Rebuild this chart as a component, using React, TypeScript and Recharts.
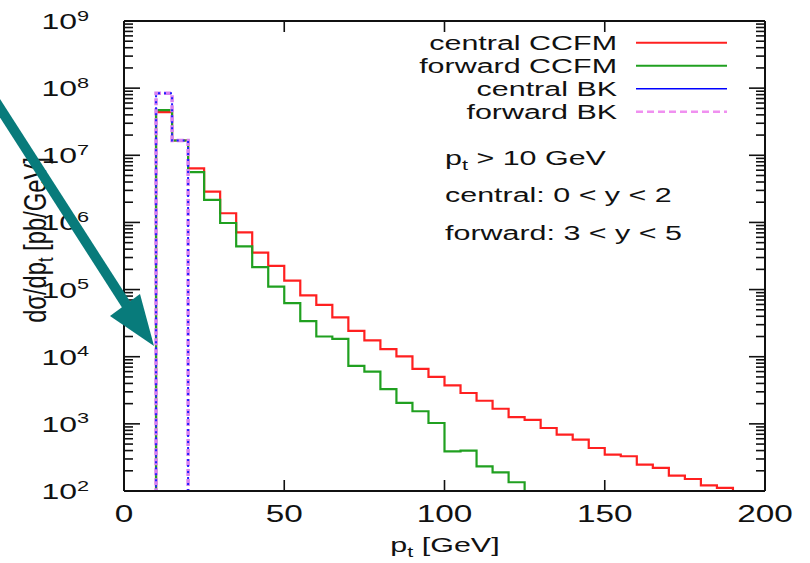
import React from 'react';
import { LineChart, Line, XAxis, YAxis } from 'recharts';

const FONT = '"Liberation Sans", Arial, Helvetica, sans-serif';
const SX = 1.45;

// bin edges (GeV)
const centralCcfmEdges = [10, 15, 20, 25, 30, 35, 40, 45, 50, 55, 60, 65, 70, 75, 80, 85, 90, 95, 100, 105, 110, 115, 120, 125, 130, 135, 140, 145, 150, 155, 160, 165, 170, 175, 180, 185, 190];
const forwardCcfmEdges = [10, 15, 20, 25, 30, 35, 40, 45, 50, 55, 60, 65, 70, 75, 80, 85, 90, 95, 100, 105, 110, 115, 120, 125];
const bkEdges = [10, 15, 20];

// dsigma/dpt values per bin (pb/GeV)
const centralCcfm = [4.4e7, 1.66e7, 6.4e6, 2.88e6, 1.37e6, 7.1e5, 3.56e5, 2.26e5, 1.36e5, 8.2e4, 5.9e4, 3.85e4, 2.42e4, 1.75e4, 1.3e4, 1.01e4, 6.6e3, 5.0e3, 3.74e3, 2.88e3, 2.21e3, 1.68e3, 1.26e3, 1.15e3, 867, 690, 582, 437, 348, 329, 247, 221, 169, 151, 121, 111];
const forwardCcfm = [4.7e7, 1.66e7, 5.6e6, 2.17e6, 9.8e5, 4.4e5, 2.16e5, 1.11e5, 6.3e4, 3.4e4, 2.0e4, 1.84e4, 7.3e3, 6.0e3, 3.3e3, 2.05e3, 1.54e3, 1.03e3, 390, 400, 233, 190, 135];
const centralBk = [8.4e7, 1.66e7];
const forwardBk = [8.4e7, 1.66e7];
const BELOW_AXIS = 1;

const xTicks = [0, 50, 100, 150, 200];
const yMajorTicks = [1e2, 1e3, 1e4, 1e5, 1e6, 1e7, 1e8, 1e9];
const yMinorTicks: number[] = [];
yMajorTicks.slice(0, -1).forEach((d) => {
  [2, 3, 4, 5, 6, 7, 8, 9].forEach((m) => yMinorTicks.push(d * m));
});
const yTicks = [...yMajorTicks, ...yMinorTicks].sort((a, b) => a - b);

const legendItems = [
  { label: 'central CCFM', color: '#ff2020', dash: undefined as string | undefined, w: 2 },
  { label: 'forward CCFM', color: '#20a020', dash: undefined, w: 2 },
  { label: 'central BK', color: '#0000ff', dash: undefined, w: 1.5 },
  { label: 'forward BK', color: '#f090f0', dash: '7 4', w: 2.5 },
];

function toSteps(edges: number[], values: number[]) {
  const pts = [{ x: edges[0], y: BELOW_AXIS }];
  values.forEach((v, i) => pts.push({ x: edges[i], y: v }));
  pts.push({ x: edges[edges.length - 1], y: BELOW_AXIS });
  return pts;
}

const redData = toSteps(centralCcfmEdges, centralCcfm);
const greenData = toSteps(forwardCcfmEdges, forwardCcfm);
const blueData = toSteps(bkEdges, centralBk);
const pinkData = toSteps(bkEdges, forwardBk);

const isMajor = (v: number) => Math.abs(Math.log10(v) - Math.round(Math.log10(v))) < 1e-6;

const LeftTick = (props: any) => {
  const { x, y, payload } = props;
  const v = payload.value;
  const major = isMajor(v);
  const e = Math.round(Math.log10(v));
  return (
    <g>
      <line x1={x} x2={x + (major ? 16 : 9)} y1={y} y2={y} stroke="#111" strokeWidth={1.6} />
      {major && (
        <text
          transform={`translate(${x - 35},${y + 8}) scale(${SX},1)`}
          textAnchor="end"
          fontSize={22}
          fontFamily={FONT}
          fill="#111"
        >
          10
          <tspan fontSize={15} dy={-8.5}>{e}</tspan>
        </text>
      )}
    </g>
  );
};

const RightTick = (props: any) => {
  const { x, y, payload } = props;
  const major = isMajor(payload.value);
  return <line x1={x} x2={x - (major ? 16 : 9)} y1={y} y2={y} stroke="#111" strokeWidth={1.6} />;
};

const BottomTick = (props: any) => {
  const { x, y, payload } = props;
  const v = payload.value;
  return (
    <g>
      {v !== 0 && v !== 200 && <line x1={x} x2={x} y1={y} y2={y - 11} stroke="#111" strokeWidth={1.6} />}
      <text
        transform={`translate(${x},${y + 31}) scale(${SX},1)`}
        textAnchor="middle"
        fontSize={23}
        fontFamily={FONT}
        fill="#111"
      >
        {v}
      </text>
    </g>
  );
};

const TopTick = (props: any) => {
  const { x, y, payload } = props;
  const v = payload.value;
  if (v === 0 || v === 200) return <g />;
  return <line x1={x} x2={x} y1={y} y2={y + 11} stroke="#111" strokeWidth={1.6} />;
};

export default function App() {
  return (
    <div style={{ position: 'absolute', left: 0, top: 0, width: 810, height: 563, background: '#fff' }}>
      <LineChart
        width={810}
        height={563}
        margin={{ top: 20, right: 44, bottom: 0, left: 0 }}
      >
        <XAxis
          xAxisId="b"
          dataKey="x"
          type="number"
          domain={[0, 200]}
          ticks={xTicks}
          interval={0}
          height={72}
          tickSize={0}
          tickMargin={0}
          tickLine={false}
          axisLine={{ stroke: '#111', strokeWidth: 2 }}
          tick={<BottomTick />}
          allowDataOverflow
        />
        <XAxis
          xAxisId="t"
          orientation="top"
          dataKey="x"
          type="number"
          domain={[0, 200]}
          ticks={xTicks}
          interval={0}
          height={1}
          tickSize={0}
          tickMargin={0}
          tickLine={false}
          axisLine={{ stroke: '#111', strokeWidth: 2 }}
          tick={<TopTick />}
          allowDataOverflow
        />
        <YAxis
          yAxisId="l"
          scale="log"
          domain={[100, 1e9]}
          ticks={yTicks}
          interval={0}
          width={124}
          tickSize={0}
          tickMargin={0}
          tickLine={false}
          axisLine={{ stroke: '#111', strokeWidth: 2 }}
          tick={<LeftTick />}
          allowDataOverflow
        />
        <YAxis
          yAxisId="r"
          orientation="right"
          scale="log"
          domain={[100, 1e9]}
          ticks={yTicks}
          interval={0}
          width={1}
          tickSize={0}
          tickMargin={0}
          tickLine={false}
          axisLine={{ stroke: '#111', strokeWidth: 2 }}
          tick={<RightTick />}
          allowDataOverflow
        />
        <Line data={redData} xAxisId="b" yAxisId="l" dataKey="y" type="stepAfter" stroke="#ff2020" strokeWidth={2.2} dot={false} isAnimationActive={false} />
        <Line data={greenData} xAxisId="b" yAxisId="l" dataKey="y" type="stepAfter" stroke="#20a020" strokeWidth={2.2} dot={false} isAnimationActive={false} />
        <Line data={pinkData} xAxisId="b" yAxisId="l" dataKey="y" type="stepAfter" stroke="#d880f0" strokeWidth={3.5} strokeDasharray="7 3" dot={false} isAnimationActive={false} />
        <Line data={blueData} xAxisId="b" yAxisId="l" dataKey="y" type="stepAfter" stroke="#2020ff" strokeWidth={2} strokeDasharray="2 4" dot={false} isAnimationActive={false} />
      </LineChart>
      <svg width={810} height={563} style={{ position: 'absolute', left: 0, top: 0, pointerEvents: 'none' }}>
        {/* y label */}
        <text
          transform={`translate(46,240) rotate(-90) scale(1.08,${SX})`}
          textAnchor="middle"
          fontSize={22}
          fontFamily={FONT}
          fill="#111"
        >
          dσ/dp<tspan fontSize={15} dy={5}>t</tspan>
          <tspan dy={-5}> [pb/GeV]</tspan>
        </text>
        {/* x label */}
        <text
          transform={`translate(445,552) scale(${SX},1)`}
          textAnchor="middle"
          fontSize={21}
          fontFamily={FONT}
          fill="#111"
        >
          p<tspan fontSize={15} dy={5}>t</tspan>
          <tspan dy={-5}> [GeV]</tspan>
        </text>
        {/* legend */}
        {legendItems.map((it, i) => {
          const cy = 42.7 + i * 23;
          return (
            <g key={it.label}>
              <text
                transform={`translate(617,${cy + 7.5}) scale(${SX},1)`}
                textAnchor="end"
                fontSize={21}
                fontFamily={FONT}
                fill="#111"
              >
                {it.label}
              </text>
              <line x1={636} x2={727} y1={cy} y2={cy} stroke={it.color} strokeWidth={it.w} strokeDasharray={it.dash} />
            </g>
          );
        })}
        {/* annotations */}
        <text transform={`translate(445,165) scale(${SX},1)`} fontSize={21} fontFamily={FONT} fill="#111">
          p<tspan fontSize={15} dy={5}>t</tspan>
          <tspan dy={-5}> &gt; 10 GeV</tspan>
        </text>
        <text transform={`translate(445,202) scale(${SX},1)`} fontSize={21} fontFamily={FONT} fill="#111">
          central: 0 &lt; y &lt; 2
        </text>
        <text transform={`translate(445,240) scale(${SX},1)`} fontSize={21} fontFamily={FONT} fill="#111">
          forward: 3 &lt; y &lt; 5
        </text>
        {/* arrow */}
        <line x1={-6} y1={99} x2={127} y2={306} stroke="#087b7b" strokeWidth={10} />
        <polygon points="110,316 140,294 154,346" fill="#087b7b" />
      </svg>
    </div>
  );
}
